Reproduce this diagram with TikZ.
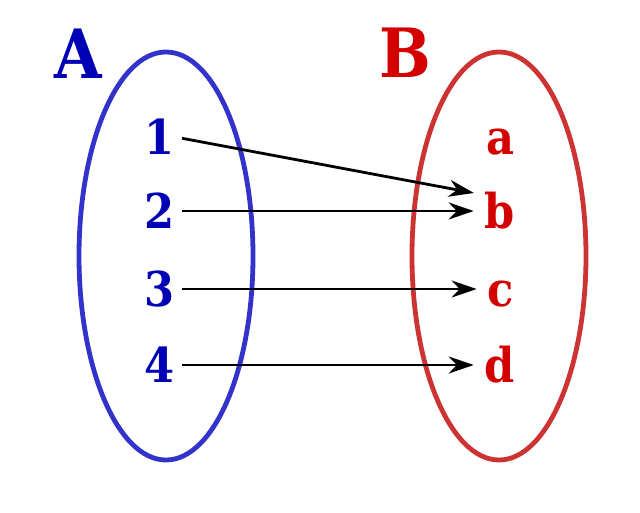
\documentclass[tikz,border=0pt]{standalone}
\usepackage{fontspec}
\setmainfont{DejaVu Serif}[FakeStretch=0.9]
\usetikzlibrary{arrows.meta,calc}
\definecolor{setblue}{RGB}{51,51,204}
\definecolor{txtblue}{RGB}{0,0,180}
\definecolor{setred}{RGB}{204,51,51}
\definecolor{txtred}{RGB}{212,0,0}
\tikzset{
  elem/.style={inner sep=0pt, text height=35pt, text depth=0pt, font=\fontsize{48}{48}\selectfont\bfseries},
  setname/.style={inner sep=0pt, anchor=base, font=\fontsize{68}{68}\selectfont\bfseries},
  setring/.style={line width=4.8pt},
  maparrow/.style={line width=2.8pt, -{Stealth[length=25pt,width=17pt,inset=8pt]}, shorten <=7pt, shorten >=11pt}
}
\begin{document}
\begin{tikzpicture}[x=1pt,y=-1pt]
\useasboundingbox (0,0) rectangle (640,512);
\draw[setring, setblue] (166,256) ellipse [x radius=87, y radius=204];
\draw[setring, setred] (499,256) ellipse [x radius=87, y radius=204];
\node[setname, text=txtblue] (A) at (78,78) {A};
\node[setname, text=txtred] (B) at (405,77) {B};
\node[elem, text=txtblue] (n1) at (160,137) {1};
\node[elem, text=txtblue] (n2) at (160,211) {2};
\node[elem, text=txtblue] (n3) at (160,289) {3};
\node[elem, text=txtblue] (n4) at (160,365) {4};
\node[elem, text=txtred] (a) at (500,137) {a};
\node[elem, text=txtred] (b) at (500,211) {b};
\node[elem, text=txtred] (c) at (501,289) {c};
\node[elem, text=txtred] (d) at (500,365) {d};
\coordinate (bup) at ($(b.west)+(0,-16)$);
\draw[maparrow] (n1.east) -- (bup);
\draw[maparrow] (n2.east) -- (b.west);
\draw[maparrow] (n3.east) -- (c.west);
\draw[maparrow] (n4.east) -- (d.west);
\end{tikzpicture}
\end{document}
